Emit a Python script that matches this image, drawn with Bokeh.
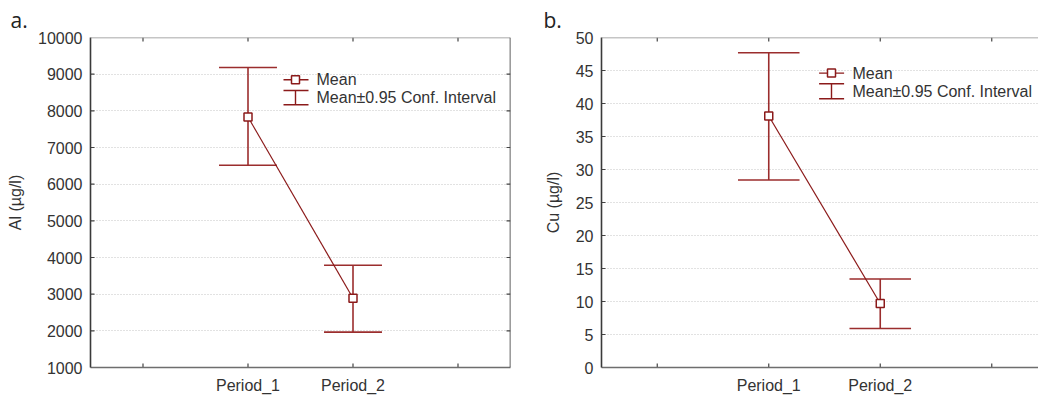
from bokeh.plotting import figure
from bokeh.layouts import row
from bokeh.models import FixedTicker, Range1d, Label, Span, Title
from bokeh.embed import file_html
from bokeh.resources import INLINE

# ---------------- data ----------------
categories = ["Period_1", "Period_2"]
al_mean = [7830, 2890]
al_low = [6515, 1965]
al_high = [9180, 3790]
cu_mean = [38.1, 9.7]
cu_low = [28.4, 5.9]
cu_high = [47.7, 13.4]
al_ticks = list(range(1000, 10001, 1000))
cu_ticks = list(range(0, 51, 5))
legend_labels = ["Mean", "Mean\u00b10.95 Conf. Interval"]

# ---------------- style ----------------
BAR = "#9B2D2D"
LINE = "#8B1A1A"
TXT = "#333333"
FONT = "Liberation Sans"
FS = "16px"
H = 397
TOP = 37
FRAME_H = 330
CAP = 0.276
TICK = 4  # px


def panel(mean, low, high, ticks, ylabel, tag, width, bl, br, x_end,
          right_axis, leg_px, tag_off):
    ymin, ymax = ticks[0], ticks[-1]
    p = figure(width=width, height=H, x_range=Range1d(-0.5, x_end),
               y_range=Range1d(ymin, ymax), output_backend="svg",
               toolbar_location=None, min_border_left=bl,
               min_border_right=br, min_border_top=TOP,
               min_border_bottom=H - TOP - FRAME_H,
               title=Title(text=tag, align="left", offset=tag_off,
                           text_font="Open Sans", text_font_size="21px",
                           text_font_style="normal", text_color="#222222",
                           standoff=7))
    p.outline_line_color = None
    p.background_fill_color = "white"
    p.border_fill_color = "white"

    frame_w = width - bl - br
    ppu = frame_w / (x_end + 0.5)

    def fx(px):
        return -0.5 + px / ppu

    def fy(py):
        return ymax - py * (ymax - ymin) / FRAME_H

    dy = TICK * (ymax - ymin) / FRAME_H
    dx = TICK / ppu

    xs = [i + 1 for i in range(len(categories))]
    xt = [0] + xs + [len(categories) + 1]

    xa = p.xaxis[0]
    xa.ticker = FixedTicker(ticks=xs)
    xa.major_label_overrides = {x: c for x, c in zip(xs, categories)}
    ya = p.yaxis[0]
    ya.ticker = FixedTicker(ticks=ticks)
    ya.axis_label = ylabel

    for ax, col in ((xa, "#6E6E6E"), (ya, "#3A3A3A")):
        ax.axis_line_color = col
        ax.axis_line_width = 1.6
        ax.major_tick_in = 0
        ax.major_tick_out = 0
        ax.major_tick_line_color = None
        ax.minor_tick_line_color = None
        ax.major_label_text_font = FONT
        ax.major_label_text_font_size = FS
        ax.major_label_text_color = TXT
        ax.axis_label_text_font = FONT
        ax.axis_label_text_font_size = FS
        ax.axis_label_text_font_style = "normal"
        ax.axis_label_text_color = TXT
    xa.major_label_standoff = 9
    ya.major_label_standoff = 8
    ya.axis_label_standoff = 11

    # frame top (and right) borders
    p.add_layout(Span(location=ymax, dimension="width", line_color="#8C8C8C",
                      line_width=1.6))
    if right_axis:
        p.add_layout(Span(location=x_end, dimension="height", line_color="#3A3A3A",
                          line_width=1.6))

    p.xgrid.visible = False
    p.ygrid.grid_line_color = "#C4C4C4"
    p.ygrid.grid_line_dash = "1 2"
    p.ygrid.grid_line_width = 1

    # inward ticks
    tk = dict(line_color="#444444", line_width=1.2)
    p.segment(x0=xt, y0=[ymin] * len(xt), x1=xt, y1=[ymin + dy] * len(xt), **tk)
    p.segment(x0=xt, y0=[ymax] * len(xt), x1=xt, y1=[ymax - dy] * len(xt), **tk)
    inner = ticks[1:-1]
    p.segment(x0=[-0.5] * len(inner), y0=inner, x1=[-0.5 + dx] * len(inner), y1=inner, **tk)
    if right_axis:
        p.segment(x0=[x_end] * len(inner), y0=inner, x1=[x_end - dx] * len(inner),
                  y1=inner, **tk)

    # error bars
    p.segment(x0=xs, y0=low, x1=xs, y1=high, line_color=BAR, line_width=1.6)
    p.segment(x0=[x - CAP for x in xs], y0=low, x1=[x + CAP for x in xs], y1=low,
              line_color=BAR, line_width=1.6)
    p.segment(x0=[x - CAP for x in xs], y0=high, x1=[x + CAP for x in xs], y1=high,
              line_color=BAR, line_width=1.6)
    # means
    p.line(xs, mean, line_color=LINE, line_width=1.2)
    p.scatter(xs, mean, marker="square", size=8, fill_color="white",
              line_color=LINE, line_width=1.5)

    # legend (positioned in frame pixels)
    mx, lx0, lx1, tx, my, c1, c2, ty = leg_px
    p.segment(x0=[fx(lx0)], y0=[fy(my)], x1=[fx(lx1)], y1=[fy(my)],
              line_color=LINE, line_width=1.4)
    p.scatter([fx(mx)], [fy(my)], marker="square", size=8, fill_color="white",
              line_color=LINE, line_width=1.5)
    p.segment(x0=[fx(mx)], y0=[fy(c1)], x1=[fx(mx)], y1=[fy(c2)],
              line_color=LINE, line_width=1.4)
    p.segment(x0=[fx(lx0), fx(lx0)], y0=[fy(c1), fy(c2)],
              x1=[fx(lx1), fx(lx1)], y1=[fy(c1), fy(c2)],
              line_color=LINE, line_width=1.4)
    for lab, yy in zip(legend_labels, (my, ty)):
        p.add_layout(Label(x=fx(tx), y=fy(yy), text=lab, text_font=FONT,
                           text_font_size=FS, text_color=TXT,
                           text_baseline="middle", text_align="left"))
    return p


pa = panel(al_mean, al_low, al_high, al_ticks, "Al (\u00b5g/l)", "a.",
           520, 90, 10, 3.5, True,
           (205, 193, 218, 226, 42.3, 53, 67.3, 60.2), -80)
pb = panel(cu_mean, cu_low, cu_high, cu_ticks, "Cu (\u00b5g/l)", "b.",
           518, 81, 0, -0.5 + 437 / 111.5, False,
           (230, 217.6, 242.6, 251, 35.6, 46.3, 61.3, 53.8), -58)

layout = row(pa, pb)
open("out.html", "w").write(file_html(layout, INLINE))
